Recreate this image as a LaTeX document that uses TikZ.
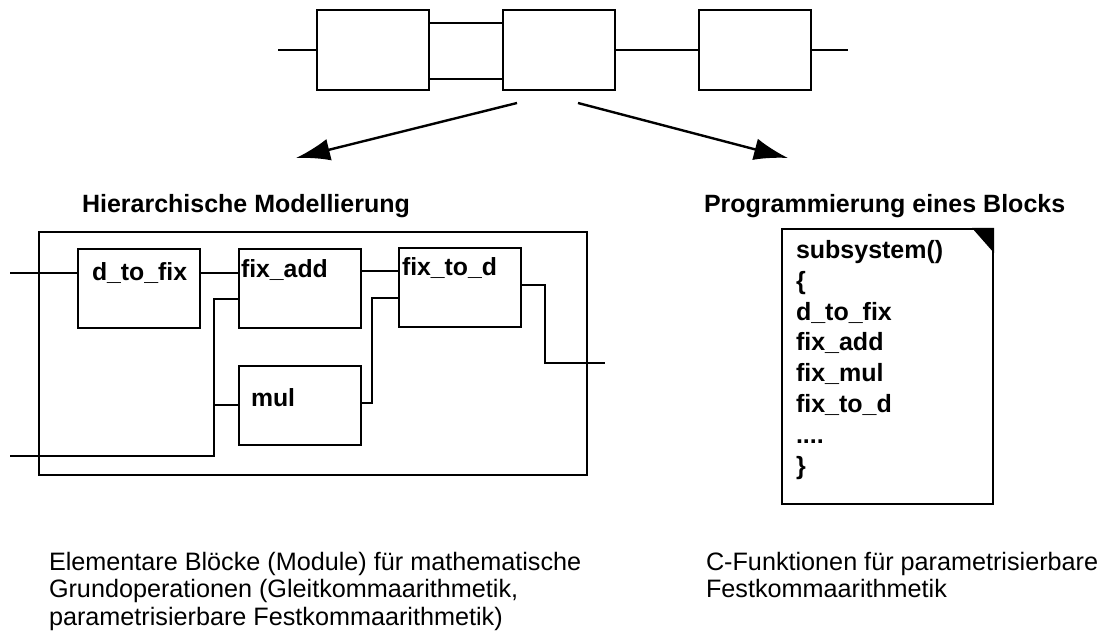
\documentclass[tikz,border=0pt]{standalone}
\usepackage{fontspec}
\setmainfont{Liberation Sans}
\usetikzlibrary{arrows.meta,calc}

\begin{document}
\begin{tikzpicture}[
    x=0.5pt, y=-0.5pt,
    line width=1pt,
    % Block styles
    blk/.style={draw, line width=1pt, anchor=north west, inner sep=0pt},
    topblk/.style={blk, minimum width=56pt, minimum height=40pt},
    modblk/.style={blk, minimum width=61pt, minimum height=39.5pt},
    blklbl/.style={anchor=base west, inner sep=0pt, font=\fontsize{12.4}{12.4}\selectfont\bfseries},
    heading/.style={anchor=base west, inner sep=0pt, font=\fontsize{12.5}{14}\selectfont\bfseries},
    note/.style={anchor=base west, inner sep=0pt, align=left, font=\fontsize{12.6}{13.75}\selectfont},
    % Wire and arrow styles
    wire/.style={line width=1pt},
    split/.style={-{Latex[length=17pt,width=11pt]}, line width=1.2pt},
]
\useasboundingbox (0,0) rectangle (1111,635);

% === TOP LEVEL SYSTEM ===
\node[topblk] (sysA) at (316,9) {};
\node[topblk] (sysB) at (502,9) {};
\node[topblk] (sysC) at (698,9) {};
\coordinate (sysin) at (278,50);
\coordinate (sysout) at (848,50);

\draw[wire] (sysin) -- (sysin -| sysA.west);
\draw[wire] ($(sysA.north east)+(0,14)$) -- ($(sysB.north west)+(0,14)$);
\draw[wire] ($(sysA.south east)+(0,-12)$) -- ($(sysB.south west)+(0,-12)$);
\draw[wire] (sysB.east) -- (sysC.west);
\draw[wire] (sysC.east |- sysout) -- (sysout);

% Refinement of the middle block
\coordinate (splitL) at (517,103);
\coordinate (splitR) at (578,103);
\coordinate (tipL) at (296,158);
\coordinate (tipR) at (788,158);
\draw[split] (splitL) -- (tipL);
\draw[split] (splitR) -- (tipR);

% === HIERARCHICAL MODEL (left) ===
\node[heading] (headL) at (81,213) {Hierarchische Modellierung};
\node[blk, minimum width=274pt, minimum height=121.5pt] (outer) at (38,231) {};

\node[modblk] (dfix) at (77,248) {};
\node[modblk] (fadd) at (238,248) {};
\node[modblk] (ftod) at (398,247) {};
\node[modblk] (mul) at (238,365) {};

\node[blklbl] (dfixtxt) at (91,281) {d\_to\_fix};
\node[blklbl] (faddtxt) at (240,278) {fix\_add};
\node[blklbl] (ftodtxt) at (401,276) {fix\_to\_d};
\node[blklbl] (multxt) at (250,406) {mul};

\coordinate (inA) at (10,273);
\coordinate (inB) at (10,456);
\coordinate (jB) at (214,456);
\coordinate (jM) at (372,403);
\coordinate (jO) at (545,285);
\coordinate (outA) at (605,363);

\draw[wire] (inA) -- (inA -| dfix.west);
\draw[wire] (dfix.east |- inA) -- (fadd.west |- inA);
\draw[wire] (fadd.east |- 0,271) -- (ftod.west |- 0,271);
\draw[wire] (inB) -- (jB) -- (jB |- 0,299) -- (fadd.west |- 0,299);
\draw[wire] (jB |- 0,405) -- (mul.west |- 0,405);
\draw[wire] (mul.east |- jM) -- (jM) -- (jM |- 0,298) -- (ftod.west |- 0,298);
\draw[wire] (ftod.east |- jO) -- (jO) -- (jO |- outA) -- (outA);

% === BLOCK PROGRAM (right) ===
\node[heading] (headR) at (703,213) {Programmierung eines Blocks};
\node[blk, minimum width=105.5pt, minimum height=137.5pt] (code) at (781,228) {};
\fill (code.north east) -- ++(-22,0) -- ++(22,25) -- cycle;
% base of a multi-line node sits on its last line
\node[anchor=base west, inner sep=0pt, align=left,
      font=\fontsize{12.5}{15.4}\selectfont\bfseries] (codetxt) at (795,474) {
    subsystem()\\
    \{\\
    d\_to\_fix\\
    fix\_add\\
    fix\_mul\\
    fix\_to\_d\\
    ....\\
    \}
};

% === DESCRIPTIONS ===
\node[note] (noteL) at (48,625) {Elementare Blöcke (Module) für mathematische\\
    Grundoperationen (Gleitkommaarithmetik,\\
    parametrisierbare Festkommaarithmetik)};
\node[note] (noteR) at (705,597.5) {C-Funktionen für parametrisierbare\\
    Festkommaarithmetik};

\end{tikzpicture}
\end{document}
